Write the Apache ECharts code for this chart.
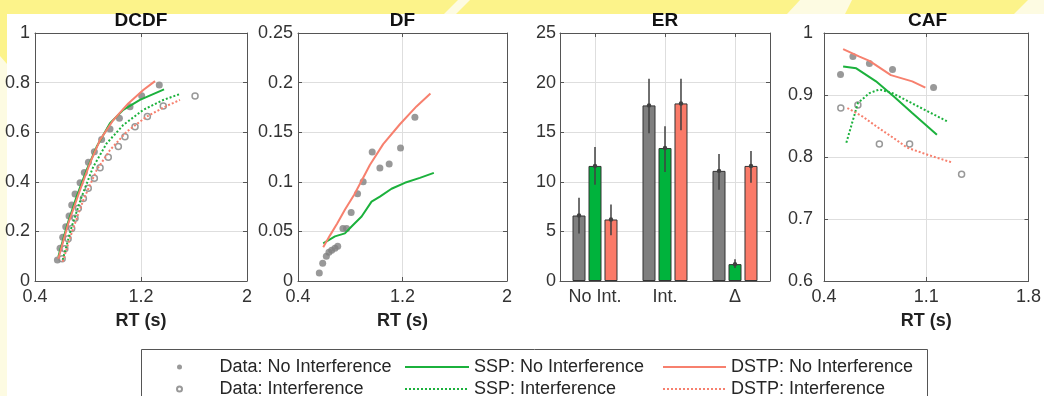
<!DOCTYPE html>
<html><head><meta charset="utf-8">
<script src="https://cdn.jsdelivr.net/npm/echarts@6/dist/echarts.min.js"></script>
<style>html,body{margin:0;padding:0;background:#fff;} #c{width:1044px;height:396px;}</style>
</head><body><div id="c"></div>
<script>
// ---------- DATA ----------
const panelTitles = ['DCDF', 'DF', 'ER', 'CAF'];
const xAxisName = 'RT (s)';
const erCategories = ['No Int.', 'Int.', '\u0394'];

// DCDF
const dcdfDataNoIntRT = [0.569,0.589,0.609,0.632,0.657,0.677,0.702,0.740,0.772,0.803,0.848,0.903,0.966,1.037,1.117,1.205,1.338];
const dcdfDataNoIntP  = [0.085,0.132,0.176,0.219,0.262,0.306,0.351,0.396,0.437,0.479,0.521,0.571,0.613,0.656,0.703,0.747,0.790];
const dcdfDataIntRT = [0.605,0.625,0.650,0.677,0.702,0.727,0.765,0.802,0.848,0.891,0.953,1.029,1.079,1.155,1.248,1.368,1.608];
const dcdfDataIntP  = [0.090,0.130,0.170,0.212,0.253,0.293,0.333,0.374,0.414,0.457,0.499,0.542,0.582,0.622,0.663,0.706,0.746];
const dcdfSspNoIntRT = [0.576,0.639,0.714,0.790,0.866,0.966,1.066,1.192,1.374];
const dcdfSspNoIntP  = [0.098,0.219,0.340,0.448,0.542,0.636,0.690,0.730,0.773];
const dcdfDstpNoIntRT = [0.576,0.652,0.740,0.815,0.891,0.991,1.104,1.217,1.306];
const dcdfDstpNoIntP  = [0.090,0.233,0.367,0.475,0.569,0.649,0.716,0.770,0.806];
const dcdfSspIntRT = [0.609,0.677,0.752,0.840,0.941,1.066,1.217,1.368,1.494];
const dcdfSspIntP  = [0.085,0.219,0.340,0.461,0.555,0.629,0.690,0.730,0.754];
const dcdfDstpIntRT = [0.609,0.684,0.765,0.866,0.966,1.092,1.243,1.394,1.494];
const dcdfDstpIntP  = [0.078,0.206,0.327,0.448,0.528,0.602,0.663,0.706,0.730];

// DF
const dfDataRT = [0.563,0.589,0.617,0.637,0.658,0.683,0.704,0.744,0.772,0.807,0.856,0.899,0.968,1.027,1.098,1.185,1.295];
const dfDataV  = [0.008,0.018,0.025,0.029,0.031,0.033,0.035,0.053,0.053,0.069,0.088,0.100,0.130,0.114,0.118,0.134,0.165];
const dfDstpRT = [0.593,0.645,0.700,0.760,0.830,0.887,0.950,1.052,1.180,1.307,1.414];
const dfDstpV  = [0.034,0.046,0.058,0.072,0.087,0.101,0.117,0.138,0.158,0.176,0.189];
const dfSspRT = [0.593,0.683,0.759,0.810,0.887,0.963,1.027,1.116,1.218,1.333,1.440];
const dfSspV  = [0.038,0.045,0.048,0.055,0.065,0.080,0.085,0.093,0.099,0.104,0.109];

// ER
const erData = [6.6, 17.7, 11.1];
const erDataLo = [4.8, 14.9, 9.2];
const erDataHi = [8.4, 20.4, 12.8];
const erSsp = [11.6, 13.4, 1.7];
const erSspLo = [9.7, 11.0, 1.3];
const erSspHi = [13.5, 15.6, 2.2];
const erDstp = [6.2, 17.9, 11.6];
const erDstpLo = [4.6, 15.2, 9.9];
const erDstpHi = [7.7, 20.4, 13.1];

// CAF
const cafDataNoIntRT = [0.513,0.598,0.711,0.869,1.150];
const cafDataNoIntA  = [0.933,0.962,0.951,0.941,0.912];
const cafDataIntRT = [0.515,0.632,0.779,0.986,1.342];
const cafDataIntA  = [0.879,0.884,0.821,0.821,0.772];
const cafDstpNoIntRT = [0.531,0.643,0.711,0.858,1.004,1.094];
const cafDstpNoIntA  = [0.974,0.962,0.955,0.932,0.922,0.912];
const cafSspNoIntRT = [0.531,0.621,0.756,0.880,1.004,1.173];
const cafSspNoIntA  = [0.946,0.943,0.922,0.897,0.871,0.836];
const cafSspIntRT = [0.553,0.632,0.711,0.779,0.869,1.049,1.247];
const cafSspIntA  = [0.823,0.887,0.903,0.909,0.903,0.881,0.857];
const cafDstpIntRT = [0.560,0.666,0.779,0.880,0.970,1.117,1.279];
const cafDstpIntA  = [0.879,0.865,0.846,0.830,0.815,0.803,0.791];

// series names
const N_DATA_NO = 'Data: No Interference';
const N_DATA_IN = 'Data: Interference';
const N_SSP_NO = 'SSP: No Interference';
const N_SSP_IN = 'SSP: Interference';
const N_DSTP_NO = 'DSTP: No Interference';
const N_DSTP_IN = 'DSTP: Interference';

// ---------- STYLE ----------
const FONT = "'Liberation Sans', Arial, Helvetica, sans-serif";
const GREY = '#7f7f7f';
const GREEN = '#1bb13c';
const RED = '#f7806e';
const BAR_GREEN = '#00b33c';
const BAR_RED = '#fa7a68';
const BOX = '#555555';
const GRIDC = '#dedede';
const TXT = '#333333';
const BAR_W = 13, BAR_GAP = 0.23;

const grids = [
  {left: 35, top: 33, width: 212, height: 248},
  {left: 298, top: 33, width: 209, height: 248},
  {left: 560, top: 33, width: 210, height: 248},
  {left: 824, top: 33, width: 207, height: 248}
];
const xRanges = [[0.4, 2, 0.8], [0.4, 2, 0.8], null, [0.4, 1.8, 0.7]];
const yRanges = [[0, 1, 0.2], [0, 0.25, 0.05], [0, 25, 5], [0.6, 1, 0.1]];
const yMargins = [5, 5, 4, 11];

const zip = (a, b) => a.map((v, i) => [v, b[i]]);

function tick() { return {show: true, inside: true, length: 4, lineStyle: {color: BOX, width: 1}}; }
function line() { return {show: true, onZero: false, lineStyle: {color: BOX, width: 1}}; }

const xAxes = [], yAxes = [];
for (let mirror = 0; mirror < 2; mirror++) {
  for (let g = 0; g < 4; g++) {
    const main = mirror === 0;
    if (g === 2) {
      xAxes.push({
        type: 'category', gridIndex: g, data: erCategories, position: main ? 'bottom' : 'top',
        boundaryGap: true,
        axisLine: line(), axisTick: Object.assign(tick(), {alignWithLabel: true}),
        axisLabel: {show: main, color: TXT, fontSize: 18, fontFamily: FONT, margin: 7},
        splitLine: {show: main, alignWithLabel: true, lineStyle: {color: GRIDC, width: 1}}
      });
    } else {
      const r = xRanges[g];
      xAxes.push({
        type: 'value', gridIndex: g, min: r[0], max: r[1], interval: r[2], position: main ? 'bottom' : 'top',
        axisLine: line(), axisTick: tick(),
        axisLabel: {show: main, color: TXT, fontSize: 18, fontFamily: FONT, margin: 7},
        splitLine: {show: main, showMinLine: false, showMaxLine: false, lineStyle: {color: GRIDC, width: 1}},
        name: main ? xAxisName : '', nameLocation: 'middle', nameGap: 31,
        nameTextStyle: {fontSize: 18, fontWeight: 'bold', color: '#222', fontFamily: FONT}
      });
    }
    const yr = yRanges[g];
    yAxes.push({
      type: 'value', gridIndex: g, min: yr[0], max: yr[1], interval: yr[2], position: main ? 'left' : 'right',
      axisLine: line(), axisTick: tick(),
      axisLabel: {show: main, color: TXT, fontSize: 18, fontFamily: FONT, margin: yMargins[g]},
      splitLine: {show: main, showMinLine: false, showMaxLine: false, lineStyle: {color: GRIDC, width: 1}}
    });
  }
}

function scat(name, g, xs, ys, filled) {
  return {
    type: 'scatter', name, xAxisIndex: g, yAxisIndex: g, z: 2,
    symbol: 'circle', symbolSize: filled ? 7 : 6,
    itemStyle: filled ? {color: GREY, borderWidth: 0} : {color: '#ffffff', borderColor: GREY, borderWidth: 1.5},
    data: zip(xs, ys)
  };
}
function lin(name, g, xs, ys, color, dotted) {
  return {
    type: 'line', name, xAxisIndex: g, yAxisIndex: g, z: 3,
    symbol: 'none', showSymbol: false, smooth: false,
    itemStyle: {color},
    lineStyle: {color, width: 2, type: dotted ? [2, 2] : 'solid', cap: 'butt'},
    data: zip(xs, ys)
  };
}
function bars(name, vals, color) {
  return {
    type: 'bar', name, xAxisIndex: 2, yAxisIndex: 2, z: 2,
    barWidth: BAR_W, barGap: (BAR_GAP * 100) + '%',
    itemStyle: {color, borderColor: '#333', borderWidth: 1},
    data: vals
  };
}
function errs(k, lo, hi, mean) {
  const off = (k - 1) * BAR_W * (1 + BAR_GAP);
  return {
    type: 'custom', name: 'err' + k, xAxisIndex: 2, yAxisIndex: 2, z: 4,
    encode: {x: 0, y: [1, 2]},
    data: lo.map((v, i) => [i, v, hi[i], mean[i]]),
    renderItem: (params, api) => {
      const pl = api.coord([api.value(0), api.value(1)]);
      const ph = api.coord([api.value(0), api.value(2)]);
      const pm = api.coord([api.value(0), api.value(3)]);
      return {type: 'group', children: [
        {type: 'line', shape: {x1: pl[0] + off, y1: pl[1], x2: ph[0] + off, y2: ph[1]}, style: {stroke: '#404040', lineWidth: 1.5}},
        {type: 'circle', shape: {cx: pm[0] + off, cy: pm[1], r: 2.2}, style: {fill: '#404040'}}
      ]};
    }
  };
}

const series = [
  // DCDF
  scat(N_DATA_NO, 0, dcdfDataNoIntRT, dcdfDataNoIntP, true),
  scat(N_DATA_IN, 0, dcdfDataIntRT, dcdfDataIntP, false),
  lin(N_SSP_NO, 0, dcdfSspNoIntRT, dcdfSspNoIntP, GREEN, false),
  lin(N_DSTP_NO, 0, dcdfDstpNoIntRT, dcdfDstpNoIntP, RED, false),
  lin(N_SSP_IN, 0, dcdfSspIntRT, dcdfSspIntP, GREEN, true),
  lin(N_DSTP_IN, 0, dcdfDstpIntRT, dcdfDstpIntP, RED, true),
  // DF
  scat(N_DATA_NO, 1, dfDataRT, dfDataV, true),
  lin(N_SSP_NO, 1, dfSspRT, dfSspV, GREEN, false),
  lin(N_DSTP_NO, 1, dfDstpRT, dfDstpV, RED, false),
  // ER
  bars('Data', erData, GREY),
  bars('SSP', erSsp, BAR_GREEN),
  bars('DSTP', erDstp, BAR_RED),
  errs(0, erDataLo, erDataHi, erData),
  errs(1, erSspLo, erSspHi, erSsp),
  errs(2, erDstpLo, erDstpHi, erDstp),
  // CAF
  scat(N_DATA_NO, 3, cafDataNoIntRT, cafDataNoIntA, true),
  scat(N_DATA_IN, 3, cafDataIntRT, cafDataIntA, false),
  lin(N_DSTP_NO, 3, cafDstpNoIntRT, cafDstpNoIntA, RED, false),
  lin(N_SSP_NO, 3, cafSspNoIntRT, cafSspNoIntA, GREEN, false),
  lin(N_SSP_IN, 3, cafSspIntRT, cafSspIntA, GREEN, true),
  lin(N_DSTP_IN, 3, cafDstpIntRT, cafDstpIntA, RED, true)
];

const titles = panelTitles.map((t, i) => ({
  text: t, left: grids[i].left + grids[i].width / 2, top: 11, textAlign: 'center', padding: 0,
  textStyle: {fontSize: 19, fontWeight: 'bold', color: '#111', fontFamily: FONT}
}));

const legendText = {fontSize: 18, color: '#262626', fontFamily: FONT};
const legends = [
  {data: [N_DATA_NO, N_DATA_IN], left: 176, itemWidth: 8, itemHeight: 5,
   textStyle: Object.assign({padding: [0, 0, 0, 31]}, legendText)},
  {data: [N_SSP_NO, N_SSP_IN], left: 404, itemWidth: 64, itemHeight: 6, itemStyle: {opacity: 0}, textStyle: legendText},
  {data: [N_DSTP_NO, N_DSTP_IN], left: 662, itemWidth: 63, itemHeight: 6, itemStyle: {opacity: 0}, textStyle: legendText}
].map(l => Object.assign({orient: 'vertical', top: 358, height: 80, itemGap: 4, padding: 0, selectedMode: false}, l));

const BG_Y = '#fcf38a', BG_C = '#fdfbe2';
const graphic = [
  {type: 'rect', z: -10, silent: true, shape: {x: 0, y: 0, width: 1044, height: 14}, style: {fill: BG_Y}},
  {type: 'polygon', z: -9, silent: true, shape: {points: [[444, 14], [458, 0], [470, 0], [456, 14]]}, style: {fill: BG_C}},
  {type: 'polygon', z: -9, silent: true, shape: {points: [[787, 14], [800, 0], [852, 0], [845, 14]]}, style: {fill: BG_C}},
  {type: 'polygon', z: -9, silent: true, shape: {points: [[1014, 14], [1028, 0], [1044, 0], [1044, 14]]}, style: {fill: BG_C}},
  {type: 'rect', z: -10, silent: true, shape: {x: 0, y: 14, width: 7, height: 382}, style: {fill: BG_C}},
  {type: 'polygon', z: -9, silent: true, shape: {points: [[0, 14], [7, 14], [7, 64], [0, 56]]}, style: {fill: BG_Y}},
  {type: 'rect', z: -5, silent: true, shape: {x: 141.5, y: 349.5, width: 786, height: 60}, style: {fill: 'none', stroke: BOX, lineWidth: 1}}
];

const chart = echarts.init(document.getElementById('c'), null, {renderer: 'canvas'});
chart.setOption({
  animation: false,
  backgroundColor: '#ffffff',
  textStyle: {fontFamily: FONT},
  title: titles,
  legend: legends,
  grid: grids.map(g => Object.assign({containLabel: false}, g)),
  xAxis: xAxes,
  yAxis: yAxes,
  graphic: graphic,
  series: series
});
</script></body></html>
